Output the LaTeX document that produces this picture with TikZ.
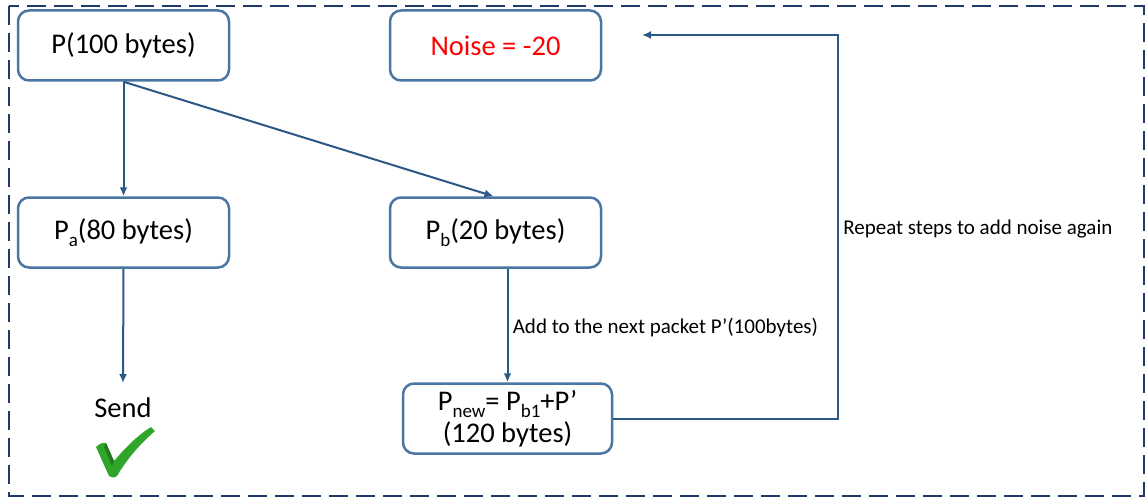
\documentclass[tikz,border=0pt]{standalone}
\usepackage{fontspec}
\setmainfont{Carlito}
\usetikzlibrary{arrows.meta}
\definecolor{framenavy}{HTML}{1F3A68}
\definecolor{boxblue}{HTML}{4A76A3}
\definecolor{linkblue}{HTML}{2C5886}
\definecolor{tickgreen}{HTML}{2FA52A}
\definecolor{tickdark}{HTML}{1E7D1A}
\newcommand{\lowtxt}[1]{\raisebox{-0.26em}{\fontsize{19}{19}\selectfont #1}}
\tikzset{
  x=1pt, y=-1pt,
  bigtext/.style={font=\fontsize{28.5}{32}\selectfont},
  smalltext/.style={font=\fontsize{21}{23}\selectfont},
  pktbox/.style={draw=boxblue, line width=2.5pt, rounded corners=11pt,
    minimum width=211pt, minimum height=70pt, align=center, inner sep=0pt, bigtext},
  link/.style={draw=linkblue, line width=2pt,
    -{Latex[length=9pt,width=8pt]}},
  frame/.style={draw=framenavy, line width=2.5pt, dash pattern=on 19pt off 8pt}
}
\begin{document}
\begin{tikzpicture}
\useasboundingbox (0,0) rectangle (1146,500);
\draw[frame] (9,6) rectangle (1144,496);

% packet boxes
\node[pktbox] (p) at (123.5,45.5) {P(100 bytes)};
\node[pktbox, text=red] (noise) at (495.5,45.5) {Noise = -20};
\node[pktbox] (pa) at (123.5,232.5) {P\lowtxt{a}(80 bytes)};
\node[pktbox] (pb) at (495.5,232.5) {P\lowtxt{b}(20 bytes)};
\node[pktbox, minimum width=209pt] (pnew) at (507.5,418.5)
  {P\lowtxt{new}= P\lowtxt{b1}+P’\\(120 bytes)};
\node[bigtext, inner sep=0pt] (send) at (123,408) {Send};
\coordinate (sendtop) at (123,383);

% check mark below "Send"
\fill[tickgreen] (96,447) .. controls (99,444) and (103,442) .. (106,443)
  -- (114,461) .. controls (126,447) and (138,435) .. (151,427)
  -- (155,431) .. controls (140,444) and (127,459) .. (117,476)
  .. controls (114,478) and (111,478) .. (109,476) -- cycle;
\fill[tickdark] (106,443) -- (114,461) -- (112,466) -- (104,447) -- cycle;

% connectors
\draw[link] (p.south) -- (pa.north);
\draw[link] (p.south) -- ([xshift=-2pt]pb.north);
\draw[link] (pa.south) -- (sendtop);
\draw[link] (pb.south -| pnew.north) -- node[right, smalltext, xshift=1pt, yshift=-2pt] {Add to the next packet P’(100bytes)} (pnew.north);
\coordinate (turn) at (838,0);
\coordinate (loopend) at (642,35);
\draw[link] (pnew.east) -- (pnew.east -| turn)
  -- node[right, smalltext, pos=0.5, xshift=1pt, yshift=-2pt] {Repeat steps to add noise again} (loopend -| turn)
  -- (loopend);
\end{tikzpicture}
\end{document}
